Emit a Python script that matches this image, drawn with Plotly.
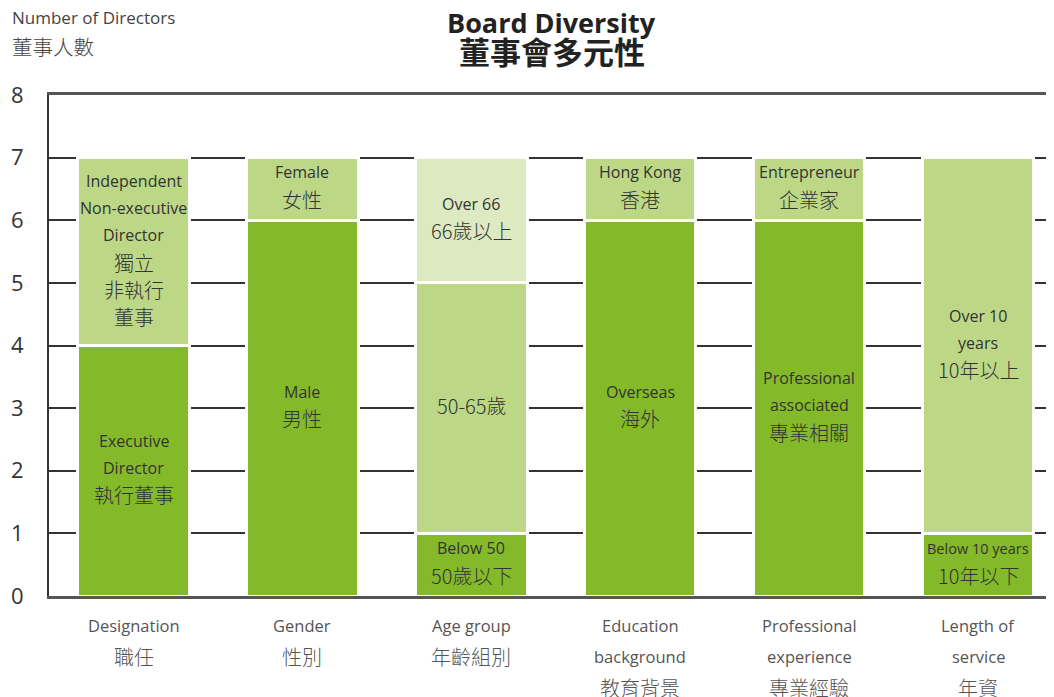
import plotly.graph_objects as go

# ---------------- data ----------------
categories = ["Designation\n職任", "Gender\n性別", "Age group\n年齡組別",
              "Education\nbackground\n教育背景", "Professional\nexperience\n專業經驗",
              "Length of\nservice\n年資"]

bottom_values = [4, 6, 1, 6, 6, 1]
bottom_labels = ["Executive\nDirector\n執行董事", "Male\n男性", "Below 50\n50歲以下",
                 "Overseas\n海外", "Professional\nassociated\n專業相關", "Below 10 years\n10年以下"]

middle_values = [3, 1, 4, 1, 1, 6]
middle_labels = ["Independent\nNon-executive\nDirector\n獨立\n非執行\n董事", "Female\n女性",
                 "50-65歲", "Hong Kong\n香港", "Entrepreneur\n企業家", "Over 10\nyears\n10年以上"]

top_values = [None, None, 2, None, None, None]
top_labels = ["", "", "Over 66\n66歲以上", "", "", ""]

y_ticks = [0, 1, 2, 3, 4, 5, 6, 7, 8]

title_lines = ["Board Diversity", "董事會多元性"]
y_title_lines = ["Number of Directors", "董事人數"]

# ---------------- style ----------------
DARK = "#84b929"
LIGHT = "#bcd886"
LIGHTEST = "#dde9c0"
TXT = "#333333"
FONT = "Open Sans, Noto Sans CJK TC, sans-serif"
CJK_FONT = "Noto Sans CJK TC, Open Sans, sans-serif"

x = list(range(len(categories)))

fig = go.Figure()
for vals, col in [(bottom_values, DARK), (middle_values, LIGHT), (top_values, LIGHTEST)]:
    fig.add_trace(go.Bar(x=x, y=vals, marker=dict(color=col, line=dict(color="white", width=3)),
                         hoverinfo="skip", showlegend=False))


def has_cjk(s):
    return any(ord(c) > 0x2E80 for c in s)


def bar_font(ln):
    if has_cjk(ln):
        return dict(size=20, color=TXT, family=CJK_FONT, weight=300)
    return dict(size=14.5 if len(ln) > 13 else 16, color=TXT, family=FONT)


annotations = []
LINE_H = 27
bases = [0] * len(categories)
for vals, labels in [(bottom_values, bottom_labels), (middle_values, middle_labels),
                     (top_values, top_labels)]:
    for i, (v, lab) in enumerate(zip(vals, labels)):
        if not v:
            continue
        center = bases[i] + v / 2
        lines = lab.split("\n")
        n = len(lines)
        for k, ln in enumerate(lines):
            annotations.append(dict(
                x=i, y=center, xref="x", yref="y", text=ln, showarrow=False,
                yshift=((n - 1) / 2 - k) * LINE_H + 3, font=bar_font(ln)))
        bases[i] += v

# category labels
for i, cat in enumerate(categories):
    for k, ln in enumerate(cat.split("\n")):
        cjk = has_cjk(ln)
        f = dict(size=20 if cjk else 16.5, color="#555555", family=CJK_FONT if cjk else FONT)
        if cjk:
            f["weight"] = 300
        annotations.append(dict(
            x=i, y=0, xref="x", yref="paper", text=ln, showarrow=False,
            yanchor="middle", yshift=-29 - 31 * k, font=f))

# title
for k, ln in enumerate(title_lines):
    annotations.append(dict(
        x=0.5, y=1, xref="paper", yref="paper", text="<b>" + ln + "</b>", showarrow=False,
        yanchor="middle", yshift=73 - 28 * k,
        font=dict(size=31 if has_cjk(ln) else 27, color="#222222",
                  family=CJK_FONT if has_cjk(ln) else FONT)))

# y title
for k, ln in enumerate(y_title_lines):
    cjk = has_cjk(ln)
    f = dict(size=20.5 if cjk else 17, color="#444444", family=CJK_FONT if cjk else FONT)
    if cjk:
        f["weight"] = 300
    annotations.append(dict(
        x=0, y=1, xref="paper", yref="paper", text=ln, showarrow=False,
        xanchor="left", yanchor="middle", xshift=-39, yshift=78 - 29 * k, font=f))

# The page body has an 8px margin, so the figure is sized to end at the window edge.
fig.update_layout(
    width=1046, height=689,
    margin=dict(l=41, r=0, t=87, b=101),
    paper_bgcolor="white", plot_bgcolor="white",
    barmode="stack", bargap=0.343,
    annotations=annotations,
    xaxis=dict(range=[-0.5, 5.447], showticklabels=False, ticks="", showgrid=False,
               zeroline=False, showline=True, linecolor="#555555", linewidth=2.5, mirror=True,
               fixedrange=True),
    yaxis=dict(range=[0, 8], tickvals=y_ticks, ticks="", showgrid=True, gridcolor="#333333",
               gridwidth=1.5, zeroline=False, showline=True, linecolor="#333333", linewidth=1.8,
               ticklabelstandoff=19, tickfont=dict(size=22, color="#333333", family=FONT),
               fixedrange=True),
)

fig.write_html("out.html")
